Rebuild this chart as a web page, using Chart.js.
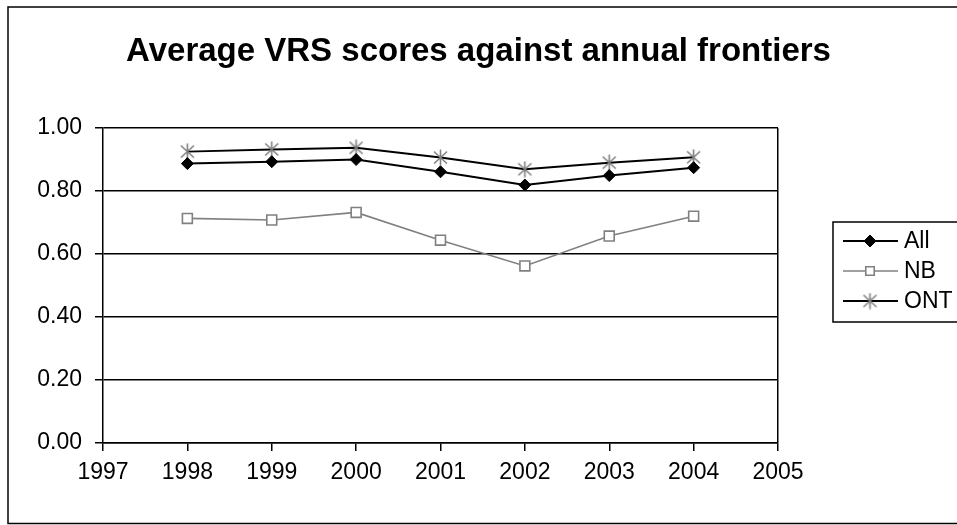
<!DOCTYPE html>
<html>
<head>
<meta charset="utf-8">
<script src="https://cdn.jsdelivr.net/npm/chart.js@4/dist/chart.umd.min.js"></script>
<style>
  html, body { margin: 0; padding: 0; background: #fff; }
  #wrap { width: 957px; height: 525px; }
</style>
</head>
<body>
<div id="wrap"><canvas id="chart" width="957" height="525"></canvas></div>
<script>
// values
var years = [1998, 1999, 2000, 2001, 2002, 2003, 2004];
var allScores = [0.887, 0.893, 0.900, 0.861, 0.819, 0.849, 0.874];
var nbScores = [0.713, 0.708, 0.732, 0.644, 0.562, 0.657, 0.720];
var ontScores = [0.925, 0.932, 0.937, 0.906, 0.869, 0.890, 0.907];
var seriesNames = ['All', 'NB', 'ONT'];

var FONT = '"Liberation Sans", Arial, sans-serif';

function toPoints(vals) {
    var pts = [];
    years.forEach(function(y, i) {
        pts.push({ x: y, y: vals[i] });
    });
    return pts;
}

// excel style asterisk marker: vertical bar plus two diagonals
function makeAsterisk() {
    var c = document.createElement('canvas');
    c.width = 17;
    c.height = 17;
    var g = c.getContext('2d');
    g.strokeStyle = '#808080';
    g.lineWidth = 1.6;
    g.beginPath();
    g.moveTo(8.5, 0.5); g.lineTo(8.5, 16.5);
    g.moveTo(2, 2.5); g.lineTo(15, 14.5);
    g.moveTo(15, 2.5); g.lineTo(2, 14.5);
    g.stroke();
    return c;
}
var asterisk = makeAsterisk();

var datasets = [
    {
        label: seriesNames[0],
        data: toPoints(allScores),
        borderColor: '#000',
        borderWidth: 2,
        pointStyle: 'rectRot',
        pointRadius: 6,
        pointBackgroundColor: '#000',
        pointBorderColor: '#000',
        pointBorderWidth: 1
    },
    {
        label: seriesNames[1],
        data: toPoints(nbScores),
        borderColor: '#808080',
        borderWidth: 1.6,
        pointStyle: 'rect',
        pointRadius: 7,
        pointBackgroundColor: '#fff',
        pointBorderColor: '#808080',
        pointBorderWidth: 1.6
    },
    {
        label: seriesNames[2],
        data: toPoints(ontScores),
        borderColor: '#000',
        borderWidth: 2,
        pointStyle: asterisk,
        pointRadius: 8,
        pointBackgroundColor: '#808080',
        pointBorderColor: '#808080',
        pointBorderWidth: 1
    }
];

var frame = {
    id: 'frame',
    beforeDraw: function(chart) {
        var ctx = chart.ctx;
        ctx.save();
        ctx.strokeStyle = '#000';
        ctx.lineWidth = 1.5;
        ctx.strokeRect(8, 7, 1000, 516.5);
        ctx.restore();
    },
    afterDraw: function(chart) {
        var ctx = chart.ctx;
        ctx.save();
        ctx.fillStyle = '#fff';
        ctx.fillRect(833, 222, 200, 100);
        ctx.strokeStyle = '#000';
        ctx.lineWidth = 1.5;
        ctx.strokeRect(833, 222, 200, 100);
        ctx.font = '23px ' + FONT;
        ctx.textBaseline = 'middle';
        chart.data.datasets.forEach(function(ds, i) {
            var y = 241 + i * 30;
            ctx.strokeStyle = ds.borderColor;
            ctx.lineWidth = ds.borderWidth;
            ctx.beginPath();
            ctx.moveTo(843, y);
            ctx.lineTo(898, y);
            ctx.stroke();
            ctx.fillStyle = ds.pointBackgroundColor;
            ctx.strokeStyle = ds.pointBorderColor;
            ctx.lineWidth = ds.pointBorderWidth;
            Chart.helpers.drawPoint(ctx, {
                pointStyle: ds.pointStyle,
                radius: i == 1 ? 6 : ds.pointRadius,
                borderWidth: ds.pointBorderWidth
            }, 870, y);
            ctx.fillStyle = '#000';
            ctx.fillText(ds.label, 904, y + 1);
        });
        ctx.restore();
    }
};

new Chart(document.getElementById('chart').getContext('2d'), {
    type: 'line',
    data: { datasets: datasets },
    plugins: [frame],
    options: {
        responsive: false,
        animation: false,
        layout: { padding: 0 },
        plugins: {
            legend: { display: false },
            tooltip: { enabled: false },
            title: {
                display: true,
                text: 'Average VRS scores against annual frontiers',
                color: '#000',
                font: { family: FONT, size: 33, weight: 'bold', lineHeight: 1.2 },
                padding: { top: 32, bottom: 56.4 }
            }
        },
        elements: { line: { tension: 0, fill: false } },
        scales: {
            x: {
                type: 'linear',
                min: 1997,
                max: 2005,
                afterFit: function(s) { s.height = 82; },
                ticks: {
                    stepSize: 1,
                    color: '#000',
                    padding: 8,
                    maxRotation: 0,
                    font: { family: FONT, size: 23 },
                    callback: function(v) { return String(v); }
                },
                grid: {
                    color: function(c) { return c.tick && c.tick.value == 2005 ? '#000' : 'rgba(0,0,0,0)'; },
                    lineWidth: 1.5,
                    tickColor: '#000',
                    tickLength: 8
                },
                border: { color: '#000', width: 1.5 }
            },
            y: {
                min: 0,
                max: 1,
                afterFit: function(s) { s.width = 103; },
                ticks: {
                    stepSize: 0.2,
                    color: '#000',
                    padding: 13,
                    font: { family: FONT, size: 23 },
                    callback: function(v) { return v.toFixed(2); }
                },
                grid: { color: '#000', lineWidth: 1.5, tickColor: '#000', tickLength: 8 },
                border: { color: '#000', width: 1.5 }
            },
            // keeps room at the right for the legend box
            y2: {
                position: 'right',
                min: 0,
                max: 1,
                afterFit: function(s) { s.width = 179; },
                ticks: { display: false },
                grid: { display: false },
                border: { display: false }
            }
        }
    }
});
</script>
</body>
</html>
